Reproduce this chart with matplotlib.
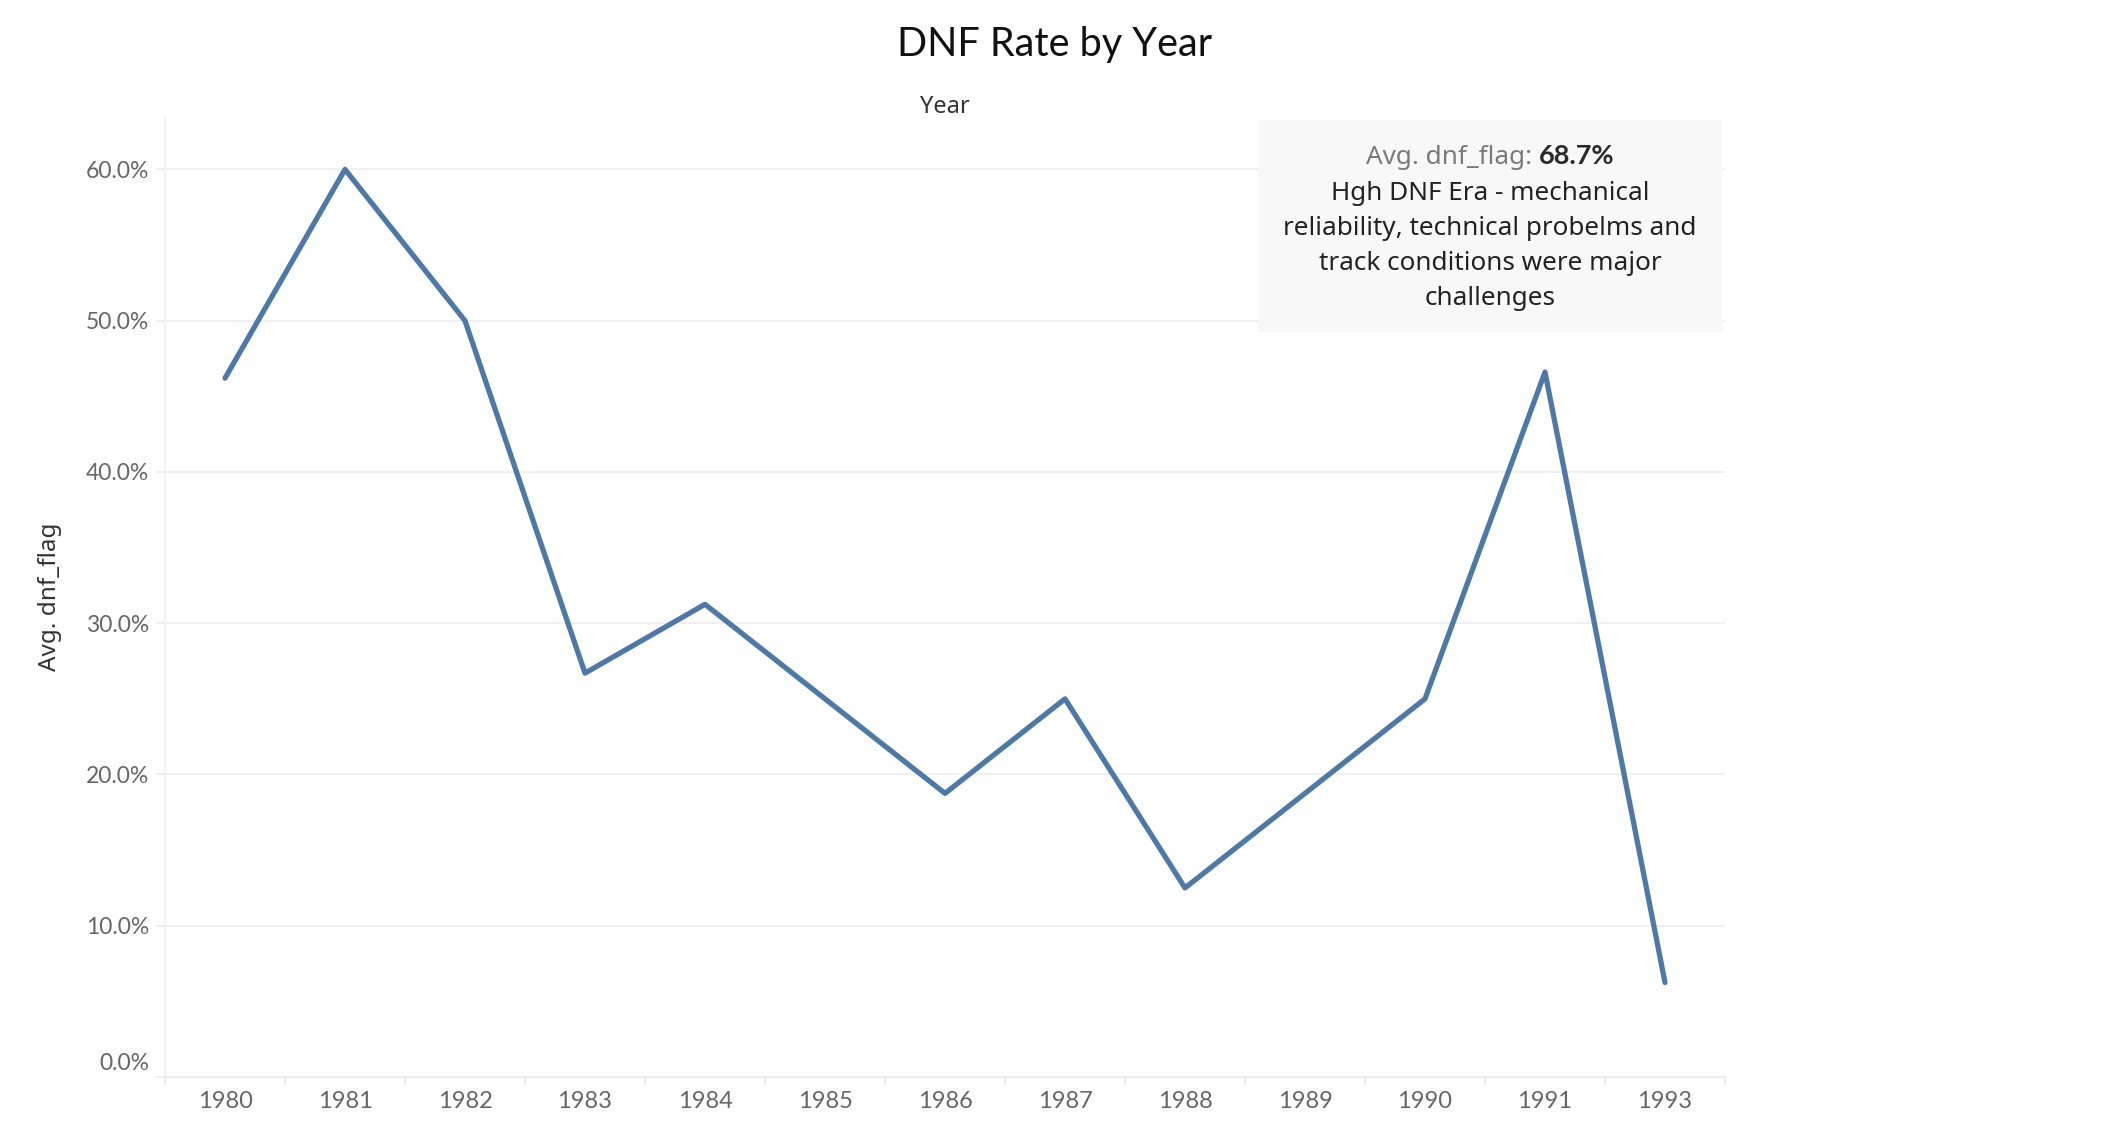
import numpy as np
import matplotlib.pyplot as plt
from matplotlib.patches import Rectangle
from matplotlib.ticker import FuncFormatter, FixedLocator
import matplotlib.transforms as mtransforms

plt.rcParams['font.family'] = ['Lato', 'DejaVu Sans']

#---------------------------- data ----------------------------
years = ["1980", "1981", "1982", "1983", "1984", "1985", "1986",
         "1987", "1988", "1989", "1990", "1991", "1993"]
dnf_rate = [0.462, 0.600, 0.500, 0.267, 0.3125, 0.250, 0.1875,
            0.250, 0.125, 0.1875, 0.250, 0.466, 0.0625]
y_ticks = [0.0, 0.1, 0.2, 0.3, 0.4, 0.5, 0.6]

note_value = "68.7%"
note_lines = ["Hgh DNF Era - mechanical",
              "reliability, technical probelms and",
              "track conditions were major",
              "challenges"]

W, H = 2110, 1136
fig = plt.figure(figsize=(W / 100, H / 100), dpi=100)

def fx(px):
    return px / W

def fy(py):
    return 1 - py / H

# plot area in pixels: x 165..1725, y 118..1077
ax = fig.add_axes([fx(165), fy(1077), fx(1725) - fx(165), fy(118) - fy(1077)])

x = np.arange(len(years))
ax.plot(x, dnf_rate, color="#4e79a7", lw=3.8, solid_capstyle="round",
        solid_joinstyle="round", zorder=3)

ax.set_xlim(-0.5, len(years) - 0.5)
ax.set_ylim(0, 0.634)

# y axis
ax.yaxis.set_major_locator(FixedLocator(y_ticks))
ax.yaxis.set_major_formatter(FuncFormatter(lambda v, p: f"{v * 100:.1f}%"))
ax.grid(axis="y", color="#efefef", lw=1.3, zorder=0)
ax.tick_params(axis="y", length=6.5, width=1.2, color="#ebebeb", pad=5,
               labelsize=16.5, labelcolor="#666666")

# x axis: labels at centres, tick marks at category edges
ax.set_xticks(x)
ax.set_xticklabels(years)
ax.set_xticks(np.arange(-0.5, len(years)), minor=True)
ax.tick_params(axis="x", which="major", length=0, pad=10, labelsize=17,
               labelcolor="#666666")
ax.tick_params(axis="x", which="minor", length=6, width=1.2, color="#ebebeb")

for s in ["top", "right"]:
    ax.spines[s].set_visible(False)
ax.spines["left"].set_color("#f0f0f0")
ax.spines["left"].set_linewidth(1.2)
ax.spines["bottom"].set_color("#ebebeb")
ax.spines["bottom"].set_linewidth(1.5)

# Tableau pushes the bottom label above the axis line
lbl0 = ax.get_yticklabels()[0]
lbl0.set_transform(lbl0.get_transform() +
                   mtransforms.ScaledTranslation(0, 15 / 100, fig.dpi_scale_trans))

# titles
fig.text(0.5, fy(56), "DNF Rate by Year", ha="center", va="baseline",
         fontsize=28.5, color="#111111", fontweight="normal")
fig.text(fx(945), fy(113), "Year", ha="center", va="baseline",
         fontsize=17, color="#333333", family=["Noto Sans", "DejaVu Sans"])
fig.text(fx(50), fy(597), "Avg. dnf_flag", ha="center", va="center",
         rotation=90, fontsize=17.5, color="#333333",
         family=["Noto Sans", "DejaVu Sans"])

# annotation box
fig.patches.append(Rectangle((fx(1258), fy(332)), fx(1722) - fx(1258),
                             fy(120) - fy(332), transform=fig.transFigure,
                             facecolor="#f8f8f8", edgecolor="none", zorder=2))

note_font = ["Noto Sans", "DejaVu Sans"]
cx = fx(1490)
t1 = fig.text(0, fy(164), "Avg. dnf_flag: ", ha="left", va="baseline",
              fontsize=18.8, color="#7a7a7a", zorder=4, family=note_font)
t2 = fig.text(0, fy(164), note_value, ha="left", va="baseline",
              fontsize=19.5, color="#2a2a2a", fontweight="bold", zorder=4,
              family=["Lato", "DejaVu Sans"])
r = fig.canvas.get_renderer()
w1 = t1.get_window_extent(r).width / W
w2 = t2.get_window_extent(r).width / W
t1.set_x(cx - (w1 + w2) / 2)
t2.set_x(cx - (w1 + w2) / 2 + w1)

base = 200
for i, line in enumerate(note_lines):
    fig.text(cx, fy(base + i * 35), line, ha="center", va="baseline",
             fontsize=18.8, color="#222222", zorder=4, family=note_font,
             fontweight="medium")

fig.savefig("out.png", dpi=100)
